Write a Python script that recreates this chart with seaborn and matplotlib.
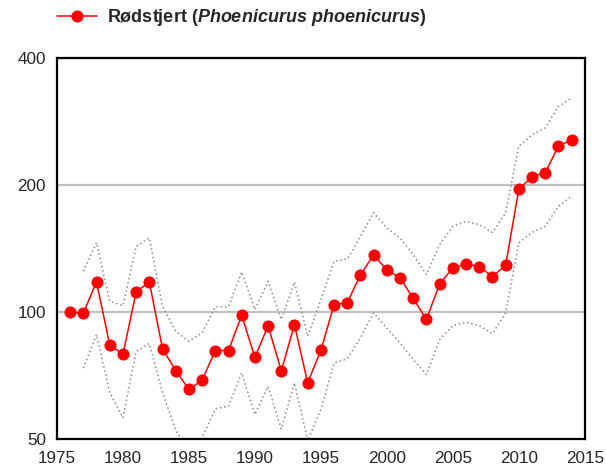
import numpy as np
import pandas as pd
import matplotlib
matplotlib.use("Agg")
import matplotlib.pyplot as plt
import matplotlib.ticker as mticker
import seaborn as sns

# Index values (1976 = 100)
years = list(range(1976, 2015))
index = [100, 99.3, 117.8, 83.5, 79.3, 111.5, 117.8, 81.8, 72.6, 65.5,
         68.9, 81, 81, 98.2, 78, 92.7, 72.5, 93.3, 67.9, 81.1,
         104, 105.2, 122.4, 136.5, 125.8, 120.4, 107.7, 96, 116.5, 127.1,
         130, 128.1, 121.3, 129, 195.3, 209, 214, 247, 256]
upper = [np.nan, 124.8, 146, 106, 103.5, 143, 149.7, 103, 90, 85.2,
         89.2, 102.8, 102.8, 124.4, 101.3, 118.2, 95.9, 117.6, 87.5, 106.9,
         131.8, 133.5, 151, 172, 158, 149.7, 136.7, 122.6, 144.4, 159.6,
         164, 161, 154.4, 171.6, 247, 263, 273, 307, 321]
lower = [np.nan, 73.6, 88.4, 64.3, 56.1, 80.5, 84.2, 64.4, 52.4, 47,
         50.3, 58.9, 59.8, 71.7, 57.1, 66.6, 52.8, 67.9, 49.5, 58.7,
         75.7, 77.4, 86.8, 99.5, 91.6, 84.4, 77.1, 71, 86, 92.8,
         94.5, 92.8, 88.8, 99.5, 145.7, 154.4, 159.6, 178, 188]

df = pd.DataFrame({"year": years, "index": index, "upper": upper, "lower": lower})

sns.set_style("white")
plt.rcParams["font.family"] = ["Liberation Sans", "DejaVu Sans"]
plt.rcParams["mathtext.fontset"] = "custom"
plt.rcParams["mathtext.it"] = "Liberation Sans:italic:bold"
plt.rcParams["mathtext.rm"] = "Liberation Sans:bold"

fig = plt.figure(figsize=(6.06, 4.75), dpi=100)
ax = fig.add_axes([0.094, 0.076, 0.871, 0.802])

# confidence bounds
sns.lineplot(data=df, x="year", y="upper", ax=ax, color="#8c8c8c",
             linestyle=(0, (1, 1.8)), lw=1.1, legend=False)
sns.lineplot(data=df, x="year", y="lower", ax=ax, color="#8c8c8c",
             linestyle=(0, (1, 1.8)), lw=1.1, legend=False)

# main series
sns.lineplot(data=df, x="year", y="index", ax=ax, color="#ff0000", lw=1.1,
             marker="o", markersize=8.7, markeredgewidth=0,
             label=r"Rødstjert ($\mathit{Phoenicurus\ phoenicurus}$)")

ax.set_yscale("log", base=2)
ax.set_ylim(50, 400)
ax.set_xlim(1975, 2015)
ax.yaxis.set_major_locator(mticker.FixedLocator([50, 100, 200, 400]))
ax.yaxis.set_major_formatter(mticker.FormatStrFormatter("%d"))
ax.yaxis.set_minor_locator(mticker.NullLocator())
ax.xaxis.set_major_locator(mticker.MultipleLocator(5))
ax.xaxis.set_minor_locator(mticker.MultipleLocator(1))

ax.yaxis.grid(True, color="#c0c0c0", lw=1.6)
ax.set_axisbelow(True)
for s in ax.spines.values():
    s.set_color("black")
    s.set_linewidth(1.6)

ax.tick_params(axis="both", which="major", direction="out", length=5,
               width=1.4, color="black", labelsize=12.3)
ax.tick_params(axis="x", which="major", pad=4)
ax.tick_params(axis="y", which="major", pad=3)
ax.tick_params(axis="x", which="minor", direction="out", length=3,
               width=1.1, color="black")
ax.set_xlabel("")
ax.set_ylabel("")

ax.legend(loc="center left", bbox_to_anchor=(-0.013, 1.105), frameon=False,
          prop={"weight": "bold", "size": 13}, handlelength=2.2,
          borderaxespad=0, handletextpad=0.55)

fig.savefig("out.png", dpi=100)
